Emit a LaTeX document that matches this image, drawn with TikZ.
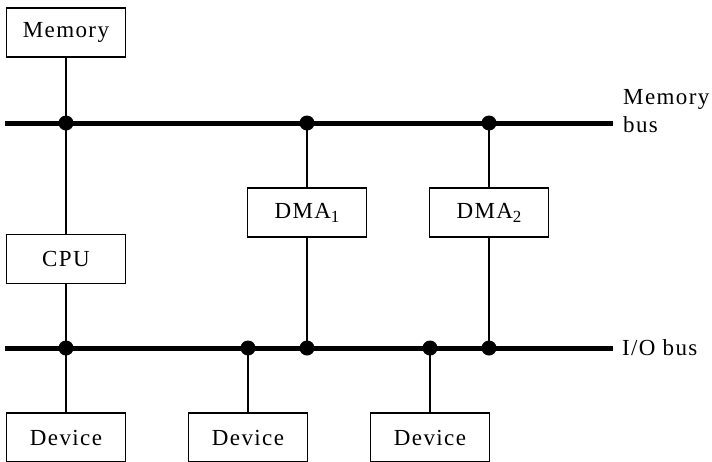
\documentclass[tikz,border=0pt]{standalone}
\usepackage{fontspec}
\setmainfont{Liberation Serif}[LetterSpace=6]
\newcommand{\lowsub}[1]{\raisebox{-4pt}{\fontsize{17}{17}\selectfont #1}}
\begin{document}
\begin{tikzpicture}[x=1pt,y=-1pt,
  unit/.style={draw, line width=1.3pt, minimum width=119pt, minimum height=49pt, inner sep=0pt, font=\fontsize{23}{27}\selectfont},
  bus/.style={line width=5pt},
  wire/.style={line width=1.4pt},
  lbl/.style={font=\fontsize{23}{28}\selectfont, inner sep=0pt, align=left},
  dot/.style={circle, fill=black, inner sep=0pt, minimum size=15pt}]
\useasboundingbox (0,0) rectangle (712,461);
\begin{scope}
\clip (0,0) rectangle (712,461);
% boxes
\node[unit] (mem)  at (66,32.5)  {Memory};
\node[unit] (cpu)  at (66,259)   {CPU};
\node[unit] (dma1) at (307,212.5) {DMA\lowsub{1}};
\node[unit] (dma2) at (489,212.5) {DMA\lowsub{2}};
\node[unit] (dev1) at (66,437.5)  {Device};
\node[unit] (dev2) at (248,437.5) {Device};
\node[unit] (dev3) at (430,437.5) {Device};
% bus ends
\coordinate (mbL) at (5,123);
\coordinate (mbR) at (613,123);
\coordinate (ibL) at (5,348);
\coordinate (ibR) at (613,348);
\draw[bus] (mbL) -- (mbR);
\draw[bus] (ibL) -- (ibR);
% junctions
\node[dot] (m1) at (66,123) {};
\node[dot] (m2) at (307,123) {};
\node[dot] (m3) at (489,123) {};
\node[dot] (i1) at (66,348) {};
\node[dot] (i2) at (248,348) {};
\node[dot] (i3) at (307,348) {};
\node[dot] (i4) at (430,348) {};
\node[dot] (i5) at (489,348) {};
% connectors
\draw[wire] (mem.south) -- (m1.center) -- (cpu.north);
\draw[wire] (cpu.south) -- (i1.center) -- (dev1.north);
\draw[wire] (m2.center) -- (dma1.north);
\draw[wire] (dma1.south) -- (i3.center);
\draw[wire] (m3.center) -- (dma2.north);
\draw[wire] (dma2.south) -- (i5.center);
\draw[wire] (i2.center) -- (dev2.north);
\draw[wire] (i4.center) -- (dev3.north);
\end{scope}
% labels
\node[lbl, anchor=base west] (mbl) at (623,132) {Memory\\bus};
\node[lbl, anchor=base west] (ibl) at (622,355) {I/O bus};
\end{tikzpicture}
\end{document}
